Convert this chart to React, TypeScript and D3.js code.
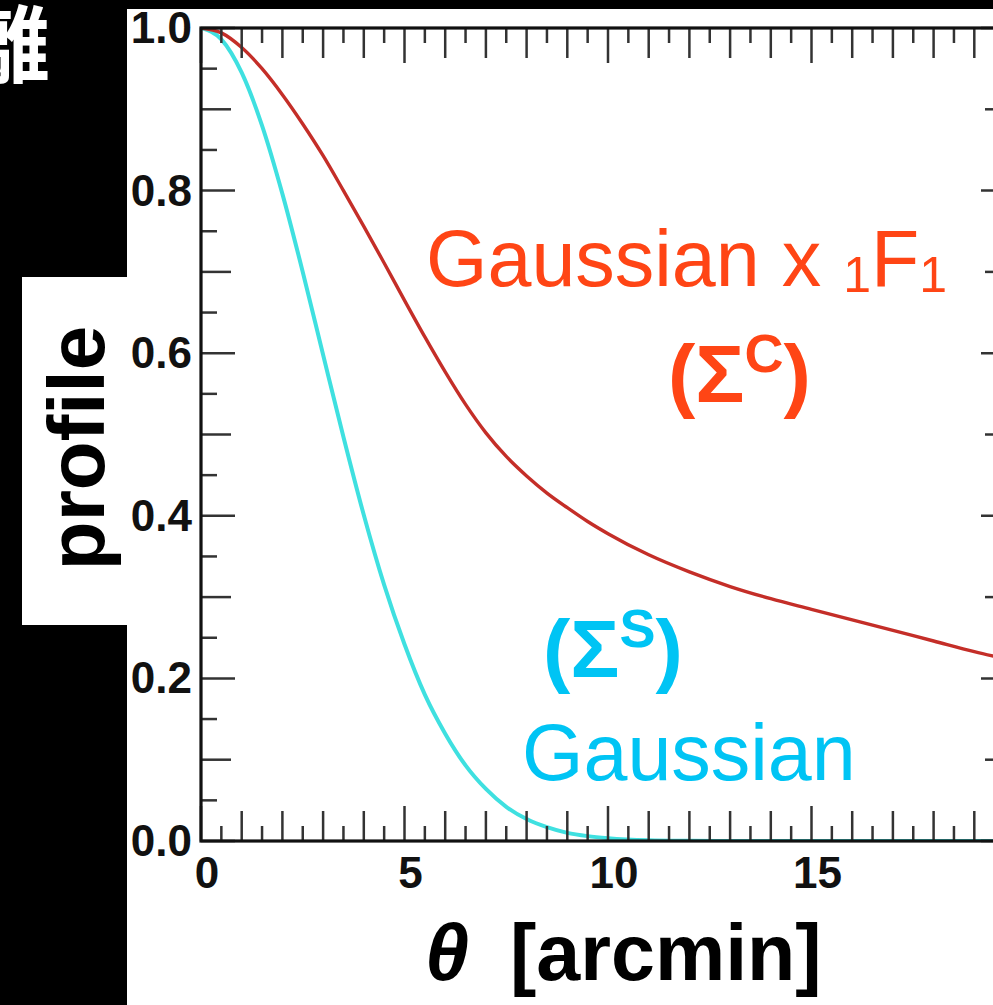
import React from "react";
import * as d3 from "d3";

// Angular radius in arcmin and the normalized profile of each model
const thetaRed = [0, 0.5, 1, 1.5, 2, 2.5, 3, 3.5, 4, 4.5, 5, 5.5, 6, 6.5, 7, 7.5, 8, 8.5, 9, 9.5, 10, 11, 12, 13, 14, 15, 16, 17, 18, 19, 20];
const profileRed = [1.0, 0.994, 0.976, 0.95, 0.918, 0.882, 0.843, 0.8, 0.756, 0.711, 0.665, 0.62, 0.577, 0.537, 0.502, 0.473, 0.449, 0.428, 0.41, 0.393, 0.378, 0.352, 0.331, 0.313, 0.298, 0.285, 0.272, 0.259, 0.246, 0.233, 0.221];

const thetaCyan = [0, 0.5, 1, 1.5, 2, 2.5, 3, 3.5, 4, 4.5, 5, 5.5, 6, 6.5, 7, 7.5, 8, 8.5, 9, 9.5, 10, 11, 12, 13, 14, 16, 18, 20];
const profileCyan = [1.0, 0.986, 0.945, 0.88, 0.796, 0.7, 0.598, 0.497, 0.401, 0.315, 0.242, 0.18, 0.132, 0.093, 0.064, 0.042, 0.027, 0.017, 0.01, 0.006, 0.0035, 0.001, 0.0003, 0, 0, 0, 0, 0];

const xTickLabels = [0, 5, 10, 15];
const yTickLabels = ["0.0", "0.2", "0.4", "0.6", "0.8", "1.0"];

const RED_LINE = "#c42e28";
const CYAN_LINE = "#3fe0e0";
const RED_TEXT = "#ff4515";
const CYAN_TEXT = "#00c4f4";
const FONT = "'Liberation Sans', Arial, Helvetica, sans-serif";

export default function App() {
  const W = 993;
  const H = 1005;
  const x = d3.scaleLinear().domain([0, 20]).range([201, 1015]);
  const y = d3.scaleLinear().domain([0, 1]).range([841, 28]);

  const line = d3
    .line<[number, number]>()
    .x((d) => x(d[0]))
    .y((d) => y(d[1]))
    .curve(d3.curveMonotoneX);

  const redPath = line(thetaRed.map((t, i) => [t, profileRed[i]]) as [number, number][]) || "";
  const cyanPath = line(thetaCyan.map((t, i) => [t, profileCyan[i]]) as [number, number][]) || "";

  const xTicks = d3.range(0, 40.5, 1).map((k) => k / 2);
  const yTicks = d3.range(0, 20.5, 1).map((k) => k / 20);

  const xLen = (t: number) => (Math.abs(t % 5) < 1e-9 ? 35 : Math.abs(t % 1) < 1e-9 ? 30 : 15);
  const yLen = (v: number) => {
    const k = Math.round(v * 20);
    return k % 4 === 0 ? 34 : k % 2 === 0 ? 30 : 16;
  };

  const [x0, x1] = x.range();
  const [yb, yt] = y.range();

  return (
    <svg
      width={W}
      height={H}
      viewBox={`0 0 ${W} ${H}`}
      style={{ position: "absolute", left: 0, top: 0, display: "block" }}
    >
      <defs>
        <clipPath id="plotArea">
          <rect x={x0} y={yt} width={x1 - x0} height={yb - yt} />
        </clipPath>
      </defs>
      <rect x={0} y={0} width={W} height={H} fill="#000" />
      <rect x={127} y={9} width={W - 127} height={H - 9} fill="#fff" />
      <rect x={22} y={277} width={110} height={348} fill="#fff" />

      <text x={50} y={76} fill="#fff" fontSize={84} fontWeight={700} textAnchor="end" fontFamily="'Noto Sans CJK JP', sans-serif">
        離
      </text>

      {/* curves */}
      <g clipPath="url(#plotArea)" fill="none" strokeLinecap="round">
        <path d={cyanPath} stroke={CYAN_LINE} strokeWidth={4} />
        <path d={redPath} stroke={RED_LINE} strokeWidth={3.4} />
      </g>

      {/* ticks on all four sides */}
      <g stroke="#333" strokeWidth={2.5}>
        {xTicks.map((t) => (
          <g key={`x${t}`}>
            <line x1={x(t)} x2={x(t)} y1={yb} y2={yb - xLen(t)} />
            <line x1={x(t)} x2={x(t)} y1={yt} y2={yt + xLen(t)} />
          </g>
        ))}
        {yTicks.map((v) => (
          <g key={`y${v}`}>
            <line x1={x0} x2={x0 + yLen(v)} y1={y(v)} y2={y(v)} />
            <line x1={x1} x2={x1 - yLen(v)} y1={y(v)} y2={y(v)} />
          </g>
        ))}
      </g>

      {/* frame */}
      <rect x={x0} y={yt} width={x1 - x0} height={yb - yt} fill="none" stroke="#111" strokeWidth={3.2} />

      {/* tick labels */}
      <g fontFamily={FONT} fontWeight={700} fontSize={44} fill="#111">
        {yTickLabels.map((s) => (
          <text key={s} x={192} y={y(+s) + 15} textAnchor="end">
            {s}
          </text>
        ))}
        {xTickLabels.map((t) => (
          <text key={t} x={x(t) + 6} y={888} textAnchor="middle">
            {t}
          </text>
        ))}
      </g>

      {/* axis titles */}
      <text x={425} y={980} fontFamily={FONT} fontWeight={700} fontSize={79} fill="#000">
        <tspan fontStyle="italic">θ</tspan>
        <tspan x={510}>[arcmin]</tspan>
      </text>
      <text
        transform="translate(104,448) rotate(-90)"
        textAnchor="middle"
        fontFamily={FONT}
        fontWeight={700}
        fontSize={80}
        fill="#000"
      >
        profile
      </text>

      {/* series labels */}
      <text x={426} y={286} fontFamily={FONT} fontSize={79} fill={RED_TEXT}>
        Gaussian x <tspan fontSize={50} dy={6}>1</tspan>
        <tspan dy={-6}>F</tspan>
        <tspan fontSize={50} dy={6}>1</tspan>
      </text>
      <text x={668} y={402} fontFamily={FONT} fontWeight={700} fontSize={82} fill={RED_TEXT}>
        (Σ<tspan fontSize={54} dy={-30}>C</tspan>
        <tspan dy={30}>)</tspan>
      </text>
      <text x={543} y={677} fontFamily={FONT} fontWeight={700} fontSize={82} fill={CYAN_TEXT}>
        (Σ<tspan fontSize={54} dy={-30}>S</tspan>
        <tspan dy={30}>)</tspan>
      </text>
      <text x={522} y={780} fontFamily={FONT} fontSize={79} fill={CYAN_TEXT}>
        Gaussian
      </text>
    </svg>
  );
}
